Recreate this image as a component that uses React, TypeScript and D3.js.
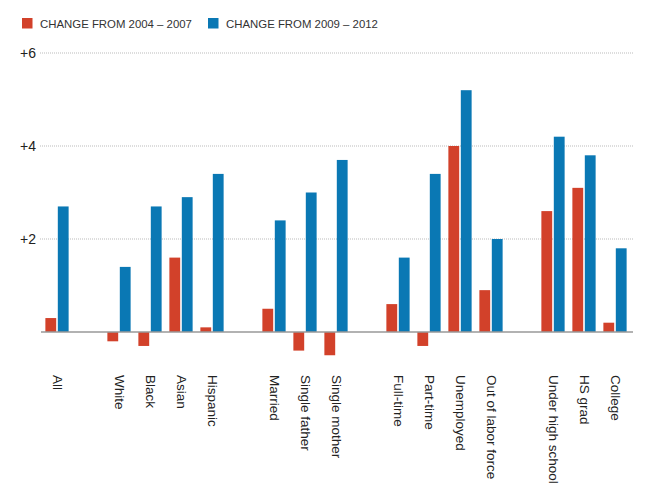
import React from "react";
import * as d3 from "d3";

const categories = ["All", "White", "Black", "Asian", "Hispanic", "Married", "Single father", "Single mother", "Full-time", "Part-time", "Unemployed", "Out of labor force", "Under high school", "HS grad", "College"];
const groupOf = [0, 1, 1, 1, 1, 2, 2, 2, 3, 3, 3, 3, 4, 4, 4];
const change0407 = [0.3, -0.2, -0.3, 1.6, 0.1, 0.5, -0.4, -0.5, 0.6, -0.3, 4.0, 0.9, 2.6, 3.1, 0.2];
const change0912 = [2.7, 1.4, 2.7, 2.9, 3.4, 2.4, 3.0, 3.7, 1.6, 3.4, 5.2, 2.0, 4.2, 3.8, 1.8];
const seriesNames = ["CHANGE FROM 2004 – 2007", "CHANGE FROM 2009 – 2012"];
const seriesColors = ["#d2412a", "#0a78b4"];
const yTicks = [2, 4, 6];

const W = 662, H = 499;
const FONT = "'Liberation Sans', Arial, Helvetica, sans-serif";

export default function App() {
  const slots = categories.map((_, i) => i + groupOf[i]);
  const nSlots = slots[slots.length - 1] + 1;
  const slotDomain = d3.range(nSlots);

  const x0 = d3.scaleBand<number>().domain(slotDomain).range([41.5, 630.5]).paddingInner(0.25).paddingOuter(0.125);
  const x1 = d3.scaleBand<number>().domain([0, 1]).range([0, x0.bandwidth()]).paddingInner(0.13);
  const y = d3.scaleLinear().domain([0, 6]).range([332, 53]);

  const series = [change0407, change0912];

  return (
    <svg width={W} height={H} style={{ position: "absolute", left: 0, top: 0, background: "#fff" }} fontFamily={FONT}>
      {/* legend */}
      {seriesNames.map((name, i) => {
        const lx = i === 0 ? 22 : 208;
        return (
          <g key={name}>
            <rect x={lx} y={18} width={10.5} height={10.5} fill={seriesColors[i]} />
            <text x={lx + 18} y={27.5} fontSize={11.4} fill="#333">{name}</text>
          </g>
        );
      })}
      {/* gridlines */}
      {yTicks.map((t) => (
        <g key={t}>
          <line x1={40} x2={633} y1={y(t)} y2={y(t)} stroke="#bbb" strokeWidth={1} strokeDasharray="1,1" />
          <text x={36} y={y(t)} dy="0.35em" textAnchor="end" fontSize={14} fill="#222">+{t}</text>
        </g>
      ))}
      {/* bars */}
      {categories.map((c, i) => (
        <g key={c} transform={`translate(${x0(slots[i])},0)`}>
          {series.map((s, j) => {
            const v = s[i];
            return (
              <rect key={j} x={x1(j)} width={x1.bandwidth()} y={Math.min(y(v), y(0))} height={Math.abs(y(v) - y(0))} fill={seriesColors[j]} />
            );
          })}
        </g>
      ))}
      {/* baseline */}
      <line x1={41} x2={633} y1={y(0)} y2={y(0)} stroke="#999" strokeWidth={1.5} />
      {/* category labels */}
      {categories.map((c, i) => (
        <text key={c} transform={`translate(${(x0(slots[i]) as number) + x0.bandwidth() / 2 + 1},375) rotate(90)`} dy="0.35em" fontSize={13.5} fill="#222">{c}</text>
      ))}
    </svg>
  );
}
